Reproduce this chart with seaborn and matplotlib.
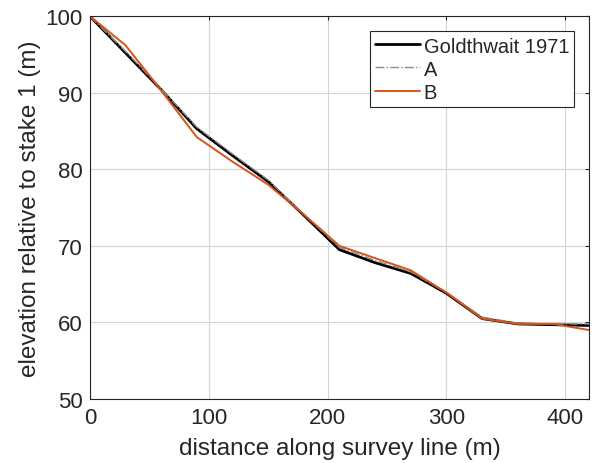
import numpy as np
import pandas as pd
import matplotlib
matplotlib.use("Agg")
import matplotlib.pyplot as plt
import seaborn as sns

# survey stations every 30 m
distance = [0, 30, 60, 90, 120, 150, 180, 210, 240, 270, 300, 330, 360, 390, 420]
goldthwait = [100, 95.2, 90.4, 85.3, 81.8, 78.4, 74.0, 69.5, 67.8, 66.4, 63.8, 60.5, 59.8, 59.7, 59.6]
series_a = [100, 95.4, 90.5, 85.5, 82.0, 78.6, 74.1, 69.8, 68.1, 66.6, 63.9, 60.7, 59.9, 59.8, 59.8]
series_b = [100, 96.2, 90.3, 84.2, 81.0, 78.0, 74.1, 70.0, 68.4, 66.8, 63.9, 60.5, 59.8, 59.8, 59.0]

sns.set_style("white")
plt.rcParams['font.family'] = ['Liberation Sans', 'DejaVu Sans']

fig = plt.figure(figsize=(5.95, 4.64), dpi=100)
ax = fig.add_axes([0.151, 0.138, 0.839, 0.825])

sns.lineplot(x=distance, y=goldthwait, ax=ax, color='black', linewidth=2.0, label='Goldthwait 1971')
sns.lineplot(x=distance, y=series_a, ax=ax, color='#8c8c8c', linewidth=1.0, linestyle='-.', label='A')
sns.lineplot(x=distance, y=series_b, ax=ax, color='#D95319', linewidth=1.4, label='B')

ax.set_xlim(0, 420)
ax.set_ylim(50, 100)
ax.set_xticks([0, 100, 200, 300, 400])
ax.set_yticks([50, 60, 70, 80, 90, 100])
ax.grid(True, color='#d4d4d4', linewidth=0.8)
ax.tick_params(direction='in', length=3, labelsize=16, colors='#262626',
               top=True, right=True, width=0.8)
ax.tick_params(axis='x', pad=6)
ax.tick_params(axis='y', pad=5)
for s in ax.spines.values():
    s.set_color('#262626')
    s.set_linewidth(0.8)

ax.set_xlabel('distance along survey line (m)', fontsize=17.5, color='#262626', labelpad=6)
ax.set_ylabel('elevation relative to stake 1 (m)', fontsize=17.5, color='#262626', labelpad=3)

leg = ax.legend(loc='upper right', fontsize=14.5, frameon=True, fancybox=False,
                edgecolor='#262626', framealpha=1, handlelength=2.2,
                handletextpad=0.2, borderpad=0.25, labelspacing=0.2,
                borderaxespad=0, bbox_to_anchor=(0.97, 0.96))
leg.get_frame().set_linewidth(0.8)

fig.savefig('out.png', dpi=100)
